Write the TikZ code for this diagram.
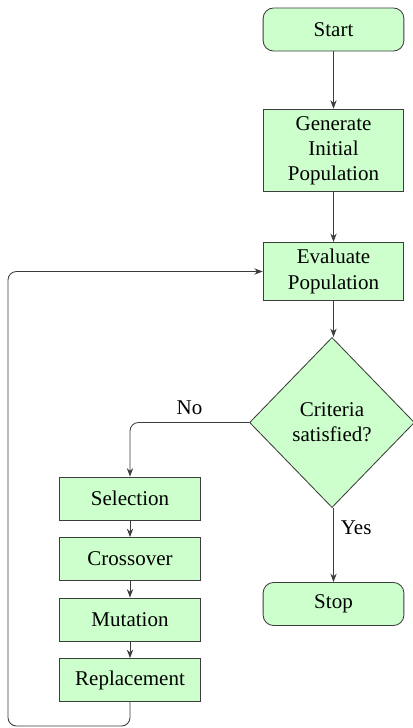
\documentclass[tikz,border=0pt]{standalone}
\usepackage{fontspec}
\setmainfont{Liberation Serif}
\usetikzlibrary{arrows.meta,positioning,shapes.geometric}
\definecolor{box-color}{RGB}{204,255,204}
\definecolor{edge-color}{RGB}{60,60,60}
\tikzset{
  terminal/.style={draw=edge-color, fill=box-color, rounded corners=5pt,
    minimum width=67pt, minimum height=20.5pt},
  process/.style={draw=edge-color, fill=box-color, align=center,
    minimum width=67pt, minimum height=20.5pt},
  decision/.style={diamond, draw=edge-color, fill=box-color, align=center,
    inner sep=1pt, minimum width=78.5pt, minimum height=81pt},
  flow/.style={draw=edge-color, -{Stealth[length=4pt,width=3pt]}}
}

\begin{document}
\begin{tikzpicture}[x=0.476pt, y=-0.476pt]
  \useasboundingbox (0,0) rectangle (412,728);
  % main column
  \node[terminal] (start) at (333.5,29.5) {Start};
  \node[process] (init) at (333.5,150.5) {Generate\\Initial\\Population};
  \node[process] (eval) at (333.5,271.5) {Evaluate\\Population};
  \node[decision] (check) at (332,422.5) {Criteria\\satisfied?};
  \node[terminal] (stop) at (333.5,604) {Stop};
  % operators
  \node[process] (sel) at (130,498.5) {Selection};
  \node[process, below=7.9pt of sel] (cross) {Crossover};
  \node[process, below=7.9pt of cross] (mut) {Mutation};
  \node[process, below=7.9pt of mut] (repl) {Replacement};
  \coordinate (loop) at (8,726);

  \draw[flow] (start) -- (init);
  \draw[flow] (init) -- (eval);
  \draw[flow] (eval) -- (eval |- check.north);
  \draw[flow] (eval |- check.south) -- node[right, pos=0.26] {Yes} (stop);
  \draw[flow, rounded corners=4pt] (check.west) -| node[above, pos=0.25] {No} (sel.north);
  \draw[flow] (sel) -- (cross);
  \draw[flow] (cross) -- (mut);
  \draw[flow] (mut) -- (repl);
  \draw[flow, rounded corners=4pt] (repl.south) |- (loop) |- (eval.west);
\end{tikzpicture}
\end{document}
